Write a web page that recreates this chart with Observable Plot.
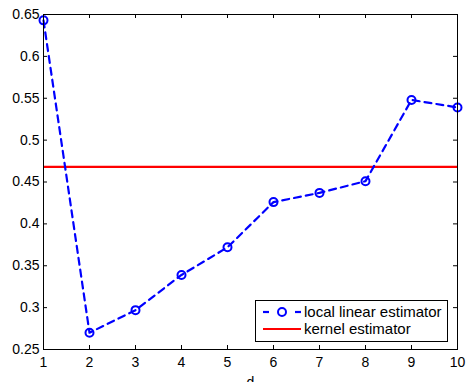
<!DOCTYPE html>
<html>
<head>
<meta charset="utf-8">
<script src="https://cdn.jsdelivr.net/npm/d3@7"></script>
<script src="https://cdn.jsdelivr.net/npm/@observablehq/plot@0.6"></script>
<style>
  html, body { margin: 0; padding: 0; background: #fff; }
  #wrap { position: relative; width: 467px; height: 382px; overflow: hidden; font-family: Arial, "Liberation Sans", Helvetica, sans-serif; }
  #legend { position: absolute; left: 255px; top: 300px; width: 191px; height: 40px; border: 1px solid #000; background: #fff; }
  #legend .row { position: absolute; left: 0; height: 18px; width: 191px; }
  #legend .row svg { position: absolute; left: 0; top: 0; }
  #legend .row span { position: absolute; left: 48px; top: 0; font-size: 15px; line-height: 18px; color: #000; white-space: nowrap; }
</style>
</head>
<body>
<div id="wrap"></div>
<script>
// data
const dValues = [1, 2, 3, 4, 5, 6, 7, 8, 9, 10];
const localLinear = [0.643, 0.270, 0.297, 0.339, 0.372, 0.426, 0.437, 0.451, 0.548, 0.539];
const kernelValue = [0.468];
const xTicks = [1, 2, 3, 4, 5, 6, 7, 8, 9, 10];
const xTickLabels = ["1", "2", "3", "4", "5", "6", "7", "8", "9", "10"];
const yTicks = [0.25, 0.3, 0.35, 0.4, 0.45, 0.5, 0.55, 0.6, 0.65];
const yTickLabels = ["0.25", "0.3", "0.35", "0.4", "0.45", "0.5", "0.55", "0.6", "0.65"];
const seriesNames = ["local linear estimator", "kernel estimator"];

const pts = dValues.map((d, i) => ({d, v: localLinear[i]}));
const blue = "#0000ff", red = "#ff0000";
const FONT = 'Arial, "Liberation Sans", Helvetica, sans-serif';

const chart = Plot.plot({
  width: 467,
  height: 382,
  marginLeft: 43,
  marginRight: 10,
  marginTop: 14,
  marginBottom: 33,
  style: {fontFamily: FONT, fontSize: "14px", color: "#000", background: "#fff", overflow: "visible"},
  x: {domain: [1, 10]},
  y: {domain: [0.25, 0.65]},
  marks: [
    Plot.axisX(xTicks, {tickSize: 0, tickPadding: 8, fontSize: 14, tickFormat: (d) => xTickLabels[xTicks.indexOf(d)], label: "d", labelArrow: "none", labelAnchor: "center", labelOffset: 37}),
    Plot.axisY(yTicks, {tickSize: 0, tickPadding: 4, fontSize: 14, tickFormat: d => yTickLabels[yTicks.indexOf(d)], label: null}),
    // inward ticks (MATLAB style) on all four sides
    Plot.tickX(xTicks, {x: d => d, stroke: "#000", strokeWidth: 1, insetTop: 331}),
    Plot.tickX(xTicks, {x: d => d, stroke: "#000", strokeWidth: 1, insetBottom: 331}),
    Plot.tickY(yTicks, {y: d => d, stroke: "#000", strokeWidth: 1, insetRight: 410}),
    Plot.tickY(yTicks, {y: d => d, stroke: "#000", strokeWidth: 1, insetLeft: 410}),
    Plot.ruleY(kernelValue, {stroke: red, strokeWidth: 2.2}),
    Plot.line(pts, {x: "d", y: "v", stroke: blue, strokeWidth: 2.2, strokeDasharray: "7,5"}),
    Plot.dot(pts, {x: "d", y: "v", r: 4, stroke: blue, strokeWidth: 2, fill: "none"}),
    Plot.frame({stroke: "#000", strokeWidth: 1})
  ]
});
const wrap = document.getElementById("wrap");
wrap.appendChild(chart);

// legend
const legend = document.createElement("div");
legend.id = "legend";
legend.innerHTML = `
  <div class="row" style="top:2px">
    <svg width="46" height="18"><line x1="7" y1="9" x2="13" y2="9" stroke="${blue}" stroke-width="2.2"/><circle cx="26" cy="9" r="4" fill="none" stroke="${blue}" stroke-width="2"/><line x1="39" y1="9" x2="45" y2="9" stroke="${blue}" stroke-width="2.2"/></svg>
    <span>${seriesNames[0]}</span>
  </div>
  <div class="row" style="top:19px">
    <svg width="46" height="18"><line x1="7" y1="9" x2="45" y2="9" stroke="${red}" stroke-width="2.2"/></svg>
    <span>${seriesNames[1]}</span>
  </div>`;
wrap.appendChild(legend);
</script>
</body>
</html>
